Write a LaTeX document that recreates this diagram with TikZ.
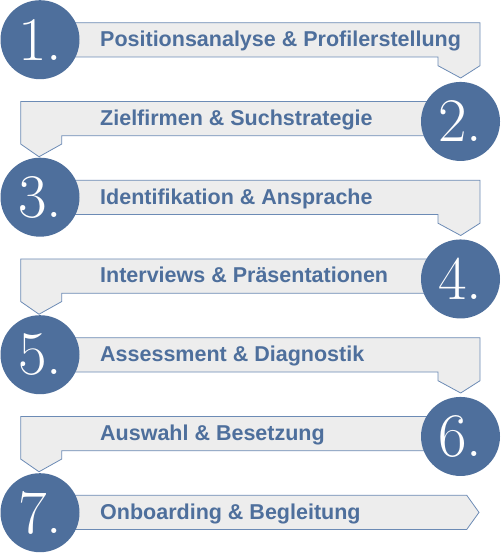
\documentclass[tikz,border=0pt]{standalone}
\usepackage{fontspec}
\newfontfamily\bandfont{Liberation Sans}
\definecolor{stepblue}{HTML}{4E6F9C}
\definecolor{bandgray}{HTML}{EDEDED}
\definecolor{bandline}{HTML}{6C8BB5}

\begin{document}
\begin{tikzpicture}[x=1pt,y=-1pt,
    numcircle/.style={circle,fill=stepblue,minimum size=79pt,inner sep=0pt,
      text=white,font=\fontsize{62}{62}\selectfont},
    bandtext/.style={anchor=base west,inner sep=0pt,text=stepblue,
      font=\bandfont\bfseries\fontsize{21.5}{24}\selectfont},
    band/.style={fill=bandgray,draw=bandline,line width=0.8pt}]
    \useasboundingbox (0,0) rectangle (500,553);
    % Draw the bands on the left side, tab pointing down right
    \foreach \n/\txt in {1/{Positionsanalyse \& Profilerstellung},
        3/{Identifikation \& Ansprache}, 5/{Assessment \& Diagnostik}}{
      \pgfmathsetmacro\btop{22.7+78.75*(\n-1)}
      \pgfmathsetmacro\bbot{\btop+34.3}
      \draw[band] (40,\btop) -- (480,\btop) -- (480,\bbot+8.7)
        -- (460.7,\bbot+21) -- (438,\bbot+8.7) -- (438,\bbot) -- (40,\bbot) -- cycle;
      \node[bandtext] (txt\n) at (100,\btop+24) {\txt};
      \node[numcircle] (num\n) at (40,\btop+17) {\n.};
    }
    % Draw the bands on the right side, tab pointing down left
    \foreach \n/\txt in {2/{Zielfirmen \& Suchstrategie},
        4/{Interviews \& Präsentationen}, 6/{Auswahl \& Besetzung}}{
      \pgfmathsetmacro\btop{22.7+78.75*(\n-1)}
      \pgfmathsetmacro\bbot{\btop+34.3}
      \draw[band] (460,\btop) -- (20.7,\btop) -- (20.7,\bbot+8.3)
        -- (39,\bbot+21) -- (61.7,\bbot+8.3) -- (61.7,\bbot) -- (460,\bbot) -- cycle;
      \node[bandtext] (txt\n) at (100,\btop+24) {\txt};
      \node[numcircle] (num\n) at (460.5,\btop+20) {\n.};
    }
    % Draw the last band as an arrow
    \draw[band] (40,495.2) -- (466.7,495.2) -- (479,512.4) -- (466.7,529.5)
      -- (40,529.5) -- cycle;
    \node[bandtext] (txt7) at (100,519.2) {Onboarding \& Begleitung};
    \node[numcircle] (num7) at (40,512.7) {7.};
\end{tikzpicture}
\end{document}
